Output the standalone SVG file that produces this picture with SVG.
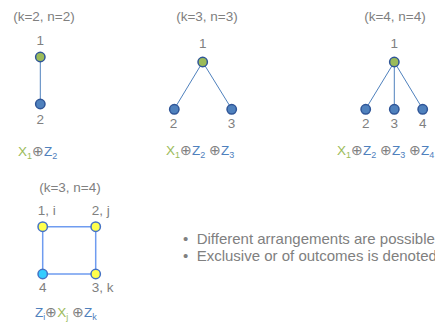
<svg xmlns="http://www.w3.org/2000/svg" width="435" height="325" viewBox="0 0 435 325">
<style>
text{font-family:"Liberation Sans",Arial,sans-serif;fill:#808080;font-size:13.5px}
.t{text-anchor:middle}
.g{fill:#9bbb59}
.b{fill:#4f81bd}
.o{fill:#808080}
.e{stroke:#4f81bd;stroke-width:1;fill:none}
.e2{stroke:#6f9cf0;stroke-width:1.5;fill:none}
.ng{fill:#9bbb59;stroke:#2f5597;stroke-width:1.5}
.nb{fill:#4f81bd;stroke:#2f5597;stroke-width:1.5}
.ny{fill:#ffff4d;stroke:#4472c4;stroke-width:1.5}
.nc{fill:#33ccff;stroke:#4472c4;stroke-width:1.5}
.bul{font-size:15px}
</style>
<rect width="435" height="325" fill="#ffffff"/>
<g id="connectors">
<line class="e" x1="40.3" y1="57" x2="40.3" y2="104"/>
<line class="e" x1="202.7" y1="62" x2="174.3" y2="109"/>
<line class="e" x1="202.7" y1="62" x2="231.7" y2="109"/>
<line class="e" x1="394.3" y1="62" x2="365.7" y2="109"/>
<line class="e" x1="394.3" y1="62" x2="394.3" y2="109"/>
<line class="e" x1="394.3" y1="62" x2="422.7" y2="109"/>
<path class="e2" d="M42.7 226.7H95.7V274H42.7Z"/>
</g>
<g id="panel1">
<text class="t" x="44" y="21">(k=2, n=2)</text>
<g id="p1n1"><text class="t" x="40.3" y="44.5">1</text><circle class="ng" cx="40.3" cy="57" r="4.7"/></g>
<g id="p1n2"><circle class="nb" cx="40.3" cy="104" r="4.7"/><text class="t" x="40.3" y="124">2</text></g>
<text x="18" y="156" font-size="14"><tspan class="g">X</tspan><tspan class="g" font-size="9" dy="3">1</tspan><tspan class="o" dy="-3">⊕</tspan><tspan class="b">Z</tspan><tspan class="b" font-size="9" dy="3">2</tspan></text>
</g>
<g id="panel2">
<text class="t" x="207" y="21">(k=3, n=3)</text>
<g id="p2n1"><text class="t" x="202.7" y="48">1</text><circle class="ng" cx="202.7" cy="62" r="4.7"/></g>
<g id="p2n2"><circle class="nb" cx="174.3" cy="109.3" r="4.7"/><text class="t" x="173.5" y="128">2</text></g>
<g id="p2n3"><circle class="nb" cx="231.7" cy="109.3" r="4.7"/><text class="t" x="231.5" y="128">3</text></g>
<text x="166" y="155" font-size="14"><tspan class="g">X</tspan><tspan class="g" font-size="9" dy="3">1</tspan><tspan class="o" dy="-3">⊕</tspan><tspan class="b">Z</tspan><tspan class="b" font-size="9" dy="3">2</tspan><tspan class="o" dy="-3"> ⊕</tspan><tspan class="b">Z</tspan><tspan class="b" font-size="9" dy="3">3</tspan></text>
</g>
<g id="panel3">
<text class="t" x="395" y="21">(k=4, n=4)</text>
<g id="p3n1"><text class="t" x="394.3" y="48">1</text><circle class="ng" cx="394.3" cy="62" r="4.7"/></g>
<g id="p3n2"><circle class="nb" cx="365.7" cy="109.3" r="4.7"/><text class="t" x="365.7" y="128">2</text></g>
<g id="p3n3"><circle class="nb" cx="394.3" cy="109.3" r="4.7"/><text class="t" x="394.3" y="128">3</text></g>
<g id="p3n4"><circle class="nb" cx="422.7" cy="109.3" r="4.7"/><text class="t" x="422.7" y="128">4</text></g>
<text x="337" y="155" font-size="14"><tspan class="g">X</tspan><tspan class="g" font-size="9" dy="3">1</tspan><tspan class="o" dy="-3">⊕</tspan><tspan class="b">Z</tspan><tspan class="b" font-size="9" dy="3">2</tspan><tspan class="o" dy="-3"> ⊕</tspan><tspan class="b">Z</tspan><tspan class="b" font-size="9" dy="3">3</tspan><tspan class="o" dy="-3"> ⊕</tspan><tspan class="b">Z</tspan><tspan class="b" font-size="9" dy="3">4</tspan></text>
</g>
<g id="panel4">
<text class="t" x="70" y="192">(k=3, n=4)</text>
<g id="p4n1"><text x="37.7" y="215">1, i</text><circle class="ny" cx="42.7" cy="226.7" r="4.7"/></g>
<g id="p4n2"><text x="91.7" y="215">2, j</text><circle class="ny" cx="95.7" cy="226.7" r="4.7"/></g>
<g id="p4n3"><circle class="ny" cx="95.7" cy="274" r="4.7"/><text x="91.7" y="292">3, k</text></g>
<g id="p4n4"><circle class="nc" cx="42.7" cy="274" r="4.7"/><text class="t" x="42.7" y="292">4</text></g>
<text x="35" y="317" font-size="14"><tspan class="b">Z</tspan><tspan class="b" font-size="9" dy="3">i</tspan><tspan class="o" dy="-3">⊕</tspan><tspan class="g">X</tspan><tspan class="g" font-size="9" dy="3">j</tspan><tspan class="o" dy="-3"> ⊕</tspan><tspan class="b">Z</tspan><tspan class="b" font-size="9" dy="3">k</tspan></text>
</g>
<g id="bullets">
<text class="bul" x="183" y="244">•</text>
<text class="bul" x="196.7" y="244">Different arrangements are possible</text>
<text class="bul" x="183" y="260.5">•</text>
<text class="bul" x="196.7" y="260.5">Exclusive or of outcomes is denoted</text>
</g>
</svg>
